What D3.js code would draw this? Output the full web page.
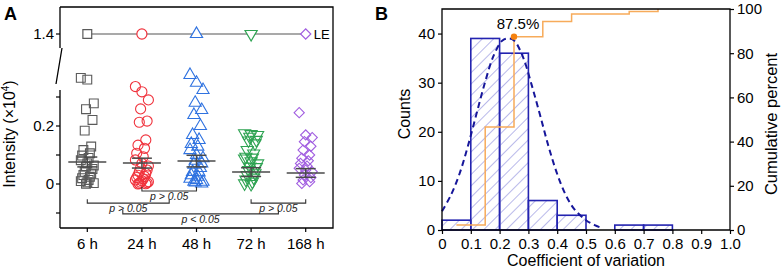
<!DOCTYPE html>
<html lang="en">
<head>
  <meta charset="UTF-8">
  <title>Intensity and coefficient of variation</title>
  <script src="https://cdnjs.cloudflare.com/ajax/libs/d3/7.8.5/d3.min.js"></script>
  <style>
      body { margin: 0; background: #fff; }
      svg { display: block; font-family: "Liberation Sans", Arial, sans-serif; }
  </style>
</head>
<body>
<div id="chart"></div>
<script>
  // ---- Panel A data (intensity, x10^4) ----
  const timepoints = ["6 h", "24 h", "48 h", "72 h", "168 h"];
  const g6h = [0.366, 0.360, 0.278, 0.258, 0.221, 0.184, 0.129, 0.117, 0.106, 0.098, 0.090, 0.082, 0.071,
    0.064, 0.060, 0.052, 0.042, 0.036, 0.031, 0.025, 0.020, 0.014, 0.010, 0.006, 0.003, 0.001];
  const g24h = [0.336, 0.318, 0.290, 0.259, 0.217, 0.213, 0.152, 0.134, 0.123, 0.106, 0.094, 0.083, 0.071,
    0.062, 0.055, 0.048, 0.042, 0.036, 0.030, 0.026, 0.022, 0.018, 0.014, 0.011, 0.008, 0.006, 0.004, 0.002, 0.001, 0.0];
  const g48h = [0.376, 0.349, 0.324, 0.280, 0.255, 0.238, 0.200, 0.169, 0.152, 0.138, 0.129, 0.117, 0.100,
    0.089, 0.080, 0.071, 0.067, 0.055, 0.042, 0.040, 0.030, 0.025, 0.018, 0.014, 0.008, 0.005, 0.002, 0.008];
  const g72h = [0.175, 0.172, 0.169, 0.163, 0.152, 0.150, 0.140, 0.117, 0.105, 0.094, 0.091, 0.088, 0.078,
    0.071, 0.060, 0.058, 0.048, 0.037, 0.031, 0.022, 0.015, 0.008, 0.002, 0.0];
  const g168h = [0.246, 0.169, 0.160, 0.146, 0.130, 0.117, 0.100, 0.089, 0.080, 0.071, 0.062, 0.054, 0.048,
    0.042, 0.031, 0.022, 0.014, 0.008, 0.002];
  const groupValues = [g6h, g24h, g48h, g72h, g168h];
  const groupMeans = [0.076, 0.072, 0.079, 0.041, 0.038];
  const groupSem = [0.017, 0.017, 0.020, 0.015, 0.015];
  const leValue = 1.4;
  // [from index, to index, level, label]
  const brackets = [
    [1, 2, -0.024, "p > 0.05"],
    [0, 1.5, -0.066, "p > 0.05"],
    [3, 4, -0.066, "p > 0.05"],
    [0.65, 3.5, -0.103, "p < 0.05"]
  ];

  // ---- Panel B data ----
  const binEdges = [0, 0.1, 0.2, 0.3, 0.4, 0.5, 0.6, 0.7, 0.8];
  const binCounts = [2, 39, 36, 6, 3, 0, 1, 1];
  const cumX = [0.05, 0.15, 0.25, 0.35, 0.45, 0.55, 0.65, 0.75];
  const cumPct = [2.3, 46.6, 87.5, 94.3, 97.7, 97.7, 98.9, 100];
  const fitX = [0, 0.03, 0.06, 0.09, 0.12, 0.15, 0.18, 0.21, 0.23, 0.25, 0.28, 0.31, 0.34, 0.37, 0.40, 0.43, 0.46, 0.50, 0.53, 0.56];
  const fitY = [3.8, 7.0, 11.3, 17.1, 23.7, 30.2, 35.6, 38.6, 39, 38.6, 35.4, 29.8, 23.5, 17.0, 11.4, 7.1, 4.2, 2.0, 1.0, 0.3];

  const W = 782, H = 270;
  const svg = d3.select("#chart").append("svg")
      .attr("width", W).attr("height", H).attr("viewBox", [0, 0, W, H]);

  const axisColor = "#000";
  const markColors = ["#5a5a5a", "#f0323c", "#2f72e0", "#2ea352", "#a15ee0"];
  const symbols = [
    {type: d3.symbolSquare, size: 78, rot: 0},
    {type: d3.symbolCircle, size: 80, rot: 0},
    {type: d3.symbolTriangle, size: 64, rot: 0},
    {type: d3.symbolTriangle, size: 64, rot: 180},
    {type: d3.symbolSquare, size: 52, rot: 45}
  ];

  // ================= Panel A =================
  const ax0 = 60, ax1 = 333, ayTop = 7, ayBot = 228;
  const xA = d3.scaleBand().domain(timepoints).range([ax0, ax1]);
  const cx = i => ax0 + xA.bandwidth() * (i + 0.5);
  const yLow = d3.scaleLinear().domain([0, 0.2]).range([184, 126]);
  const yHigh = d3.scaleLinear().domain([1.3, 1.5]).range([63, 5]);

  const gA = svg.append("g");

  // frame: top, right, bottom
  gA.append("path").attr("fill", "none").attr("stroke", axisColor).attr("stroke-width", 1.3)
      .attr("d", `M${ax0},${ayTop}H${ax1}V${ayBot}H${ax0}`);
  // broken left axis
  gA.append("path").attr("fill", "none").attr("stroke", axisColor).attr("stroke-width", 1.3)
      .attr("d", `M${ax0},${ayTop}V48 M62,48 L56,84 M${ax0},90V${ayBot}`);

  // y ticks (lower part)
  const lowTicks = [-0.1, 0, 0.1, 0.2, 0.3];
  lowTicks.forEach(t => {
    gA.append("line").attr("x1", ax0 - 4).attr("x2", ax0).attr("y1", yLow(t)).attr("y2", yLow(t))
        .attr("stroke", axisColor).attr("stroke-width", 1.2);
  });
  [0, 0.2].forEach(t => {
    gA.append("text").attr("x", ax0 - 6).attr("y", yLow(t)).attr("dy", "0.35em")
        .attr("text-anchor", "end").attr("font-size", 15).text(d3.format("")(t));
  });
  gA.append("line").attr("x1", ax0 - 4).attr("x2", ax0).attr("y1", yHigh(leValue)).attr("y2", yHigh(leValue))
      .attr("stroke", axisColor).attr("stroke-width", 1.2);
  gA.append("text").attr("x", ax0 - 6).attr("y", yHigh(leValue)).attr("dy", "0.35em")
      .attr("text-anchor", "end").attr("font-size", 15).text("1.4");

  // x axis ticks and labels
  const xAxisA = d3.axisBottom(xA).tickSize(4).tickSizeOuter(0);
  gA.append("g").attr("transform", `translate(0,${ayBot})`).call(xAxisA)
      .call(g => g.select(".domain").remove())
      .call(g => g.selectAll(".tick line").attr("stroke-width", 1.2))
      .call(g => g.selectAll(".tick text").attr("font-size", 15).attr("font-family", "Liberation Sans, Arial, sans-serif")
          .attr("fill", "#000").attr("dy", "0.95em"));

  // y label
  gA.append("text").attr("transform", `translate(15,134) rotate(-90)`).attr("text-anchor", "middle")
      .attr("font-size", 16).text("Intensity (×10")
      .append("tspan").attr("font-size", 10).attr("dy", -6).text("4")
      .select(function () { return this.parentNode; })
      .append("tspan").attr("dy", 6).text(")");

  gA.append("text").attr("x", 4).attr("y", 20).attr("font-size", 18).attr("font-weight", "bold").text("A");

  const symbolPath = s => d3.symbol().type(s.type).size(s.size)();

  // LE line
  gA.append("line").attr("x1", cx(0)).attr("x2", cx(4)).attr("y1", yHigh(leValue)).attr("y2", yHigh(leValue))
      .attr("stroke", "#555").attr("stroke-width", 1.2);
  timepoints.forEach((tp, i) => {
    gA.append("path").attr("d", symbolPath(symbols[i]))
        .attr("transform", `translate(${cx(i)},${yHigh(leValue)}) rotate(${symbols[i].rot})`)
        .attr("fill", "#fff").attr("stroke", markColors[i]).attr("stroke-width", 1.2);
  });
  gA.append("text").attr("x", cx(4) + 8).attr("y", yHigh(leValue)).attr("dy", "0.36em")
      .attr("font-size", 13).text("LE");

  // scatter points
  groupValues.forEach((vals, i) => {
    const g = gA.append("g");
    vals.forEach((v, k) => {
      const j = ((k * 5) % 11 - 5) * 1.3;
      g.append("path").attr("d", symbolPath(symbols[i]))
          .attr("transform", `translate(${cx(i) + j},${yLow(v)}) rotate(${symbols[i].rot})`)
          .attr("fill", "none").attr("stroke", markColors[i]).attr("stroke-width", 1.1);
    });
  });

  // mean and SEM
  groupMeans.forEach((m, i) => {
    const g = gA.append("g").attr("stroke", "#4a4a4a").attr("stroke-width", 1.5);
    g.append("line").attr("x1", cx(i) - 19).attr("x2", cx(i) + 19).attr("y1", yLow(m)).attr("y2", yLow(m));
    g.append("line").attr("x1", cx(i)).attr("x2", cx(i))
        .attr("y1", yLow(m - groupSem[i])).attr("y2", yLow(m + groupSem[i]));
    [m - groupSem[i], m + groupSem[i]].forEach(e => {
      g.append("line").attr("x1", cx(i) - 10).attr("x2", cx(i) + 10).attr("y1", yLow(e)).attr("y2", yLow(e));
    });
  });

  // significance brackets
  brackets.forEach(([a, b, lvl, label]) => {
    const y = yLow(lvl);
    gA.append("path").attr("fill", "none").attr("stroke", "#333").attr("stroke-width", 1.1)
        .attr("d", `M${cx(a)},${y - 4}V${y}H${cx(b)}V${y - 4}`);
    gA.append("text").attr("x", (cx(a) + cx(b)) / 2).attr("y", y + 9)
        .attr("text-anchor", "middle").attr("font-size", 10.5).attr("font-style", "italic")
        .attr("fill", "#222").text(label);
  });

  // ================= Panel B =================
  const bx0 = 442, bx1 = 730, byTop = 9, byBot = 230;
  const xB = d3.scaleLinear().domain([0, 1]).range([bx0, bx1]);
  const yB = d3.scaleLinear().domain([0, 45]).range([byBot, byTop]);
  const yP = d3.scaleLinear().domain([0, 100]).range([byBot, byTop]);
  const gB = svg.append("g");

  const defs = svg.append("defs");
  defs.append("pattern").attr("id", "hatch").attr("patternUnits", "userSpaceOnUse")
      .attr("width", 8).attr("height", 8).attr("patternTransform", "rotate(45)")
      .append("line").attr("x1", 0).attr("x2", 0).attr("y1", 0).attr("y2", 8)
      .attr("stroke", "#7f7fd8").attr("stroke-width", 1.1);

  // bars
  const bins = binCounts.map((c, i) => ({x0: binEdges[i], x1: binEdges[i + 1], c})).filter(d => d.c > 0);
  gB.append("g").selectAll("rect").data(bins).join("rect")
      .attr("x", d => xB(d.x0)).attr("width", d => xB(d.x1) - xB(d.x0))
      .attr("y", d => yB(d.c)).attr("height", d => yB(0) - yB(d.c))
      .attr("fill", "url(#hatch)").attr("stroke", "#2323b0").attr("stroke-width", 1.6);

  // cumulative line
  const cum = cumX.map((x, i) => [x, cumPct[i]]);
  gB.append("path").datum(cum)
      .attr("d", d3.line().x(d => xB(d[0])).y(d => yP(d[1])).curve(d3.curveStepAfter))
      .attr("fill", "none").attr("stroke", "#f7ab5a").attr("stroke-width", 1.5);

  // fitted curve (dashed)
  const fit = fitX.map((x, i) => [x, fitY[i]]);
  gB.append("path").datum(fit)
      .attr("d", d3.line().x(d => xB(d[0])).y(d => yB(d[1])).curve(d3.curveCatmullRom))
      .attr("fill", "none").attr("stroke", "#16169a").attr("stroke-width", 2).attr("stroke-dasharray", "6,4");

  // marker at 87.5%
  gB.append("circle").attr("cx", xB(cumX[2])).attr("cy", yP(cumPct[2])).attr("r", 3.2).attr("fill", "#f5820f");
  gB.append("text").attr("x", xB(cumX[2]) + 4).attr("y", yP(cumPct[2]) - 8).attr("text-anchor", "middle")
      .attr("font-size", 15).text(cumPct[2] + "%");

  // frame
  gB.append("path").attr("fill", "none").attr("stroke", axisColor).attr("stroke-width", 1.3)
      .attr("d", `M${bx0},${byBot}V${byTop}H${bx1}V${byBot}Z`);

  const fontAxis = g => g.call(g => g.select(".domain").remove())
      .call(g => g.selectAll(".tick line").attr("stroke-width", 1.2))
      .call(g => g.selectAll(".tick text").attr("font-size", 15).attr("fill", "#000")
          .attr("font-family", "Liberation Sans, Arial, sans-serif"));

  gB.append("g").attr("transform", `translate(0,${byBot})`)
      .call(d3.axisBottom(xB).tickValues(d3.range(0, 11).map(i => i / 10)).tickFormat(d3.format("")).tickSize(4))
      .call(fontAxis)
      .call(g => g.selectAll(".tick text").text(d => d === 1 ? "1.0" : d3.format("")(d)).attr("dy", "0.78em"));
  gB.append("g").attr("transform", `translate(${bx0},0)`)
      .call(d3.axisLeft(yB).tickValues([0, 10, 20, 30, 40]).tickSize(4))
      .call(fontAxis);
  gB.append("g").attr("transform", `translate(${bx1},0)`)
      .call(d3.axisRight(yP).tickValues([0, 20, 40, 60, 80, 100]).tickSize(4))
      .call(fontAxis);

  gB.append("text").attr("transform", `translate(410,114) rotate(-90)`).attr("text-anchor", "middle")
      .attr("font-size", 16).text("Counts");
  gB.append("text").attr("transform", `translate(777,124) rotate(-90)`).attr("text-anchor", "middle")
      .attr("font-size", 16.5).text("Cumulative percent");
  gB.append("text").attr("x", 586).attr("y", 266).attr("text-anchor", "middle")
      .attr("font-size", 16).text("Coefficient of variation");
  gB.append("text").attr("x", 375).attr("y", 20).attr("font-size", 18).attr("font-weight", "bold").text("B");
</script>
</body>
</html>
